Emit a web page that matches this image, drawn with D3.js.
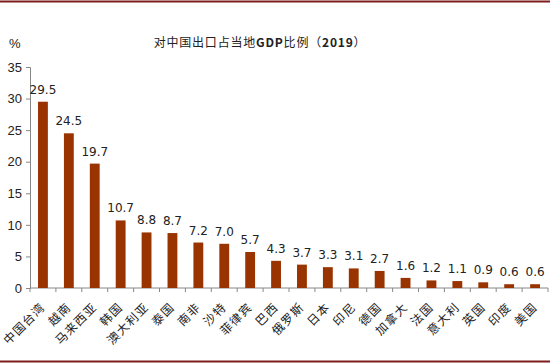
<!DOCTYPE html>
<html>
<head>
<meta charset="utf-8">
<script src="https://cdn.jsdelivr.net/npm/d3@7.9.0/dist/d3.min.js"></script>
<style>
  body { margin: 0; background: #fff; }
  svg { display: block; }
</style>
</head>
<body>
<svg id="chart" width="550" height="363"></svg>
<script>
const categories = ['中国台湾', '越南', '马来西亚', '韩国', '澳大利亚', '泰国', '南非', '沙特', '菲律宾', '巴西',
  '俄罗斯', '日本', '印尼', '德国', '加拿大', '法国', '意大利', '英国', '印度', '美国'];
const values = [29.5, 24.5, 19.7, 10.7, 8.8, 8.7, 7.2, 7.0, 5.7, 4.3, 3.7, 3.3, 3.1, 2.7, 1.6, 1.2, 1.1, 0.9, 0.6, 0.6];
const yTicks = [0, 5, 10, 15, 20, 25, 30, 35];

const svg = d3.select('#chart');
const margin = { left: 30, right: 2, top: 67, bottom: 75 };
const W = 550, H = 363;

// frame lines
svg.append('line').attr('x1', 0).attr('x2', W).attr('y1', 1.5).attr('y2', 1.5)
  .attr('stroke', '#7f1d1d').attr('stroke-width', 2);
svg.append('line').attr('x1', 0).attr('x2', W).attr('y1', 361.5).attr('y2', 361.5)
  .attr('stroke', '#7f1d1d').attr('stroke-width', 2);

const x = d3.scaleBand().domain(categories).range([margin.left, W - margin.right]).paddingInner(0.62).paddingOuter(0.31);
const y = d3.scaleLinear().domain([0, 35]).range([H - margin.bottom, margin.top]);

// title: chinese normal, latin bold
const title = svg.append('text').attr('x', 260).attr('y', 47).attr('text-anchor', 'middle')
  .attr('font-family', 'Noto Sans CJK SC').attr('font-size', 12)
  .attr('letter-spacing', 0.8).attr('fill', '#222');
title.append('tspan').text('对中国出口占当地');
title.append('tspan').attr('font-weight', 'bold').text('GDP');
title.append('tspan').text('比例（');
title.append('tspan').attr('font-weight', 'bold').text('2019');
title.append('tspan').text('）');

svg.append('text').attr('x', 9).attr('y', 48)
  .attr('font-family', 'Liberation Sans, Arial').attr('font-size', 13).attr('fill', '#222').text('%');

const yAxis = svg.append('g').attr('transform', `translate(${margin.left},0)`)
  .call(d3.axisLeft(y).tickValues(yTicks).tickSize(4).tickPadding(4));
yAxis.select('.domain').attr('stroke', '#888');
yAxis.selectAll('line').attr('stroke', '#888');
yAxis.selectAll('text').attr('font-family', 'Liberation Sans, Arial').attr('font-size', 13).attr('fill', '#222');

// x axis line with tick marks at band boundaries
const y0 = y(0);
svg.append('line').attr('x1', margin.left).attr('x2', W - margin.right).attr('y1', y0).attr('y2', y0)
  .attr('stroke', '#888');
d3.range(categories.length + 1).forEach(i => {
  const xx = margin.left + i * (W - margin.left - margin.right) / categories.length;
  svg.append('line').attr('x1', xx).attr('x2', xx).attr('y1', y0).attr('y2', y0 + 4).attr('stroke', '#888');
});

svg.selectAll('rect.bar').data(values).join('rect')
  .attr('class', 'bar')
  .attr('x', (d, i) => x(categories[i]))
  .attr('y', d => y(d))
  .attr('width', x.bandwidth())
  .attr('height', d => y0 - y(d))
  .attr('fill', '#993300');

svg.selectAll('text.val').data(values).join('text')
  .attr('class', 'val')
  .attr('x', (d, i) => x(categories[i]) + x.bandwidth() / 2)
  .attr('y', d => y(d) - 8)
  .attr('text-anchor', 'middle')
  .attr('font-family', 'DejaVu Sans, Verdana').attr('font-size', 12).attr('fill', '#222')
  .text(d => d.toFixed(1));

svg.selectAll('text.cat').data(categories).join('text')
  .attr('class', 'cat')
  .attr('transform', d => `translate(${x(d) + x.bandwidth() / 2 + 3},${y0 + 20}) rotate(-45)`)
  .attr('text-anchor', 'end')
  .attr('letter-spacing', 1.2)
  .attr('font-family', 'Noto Sans CJK SC').attr('font-size', 12).attr('fill', '#222')
  .text(d => d);
</script>
</body>
</html>
